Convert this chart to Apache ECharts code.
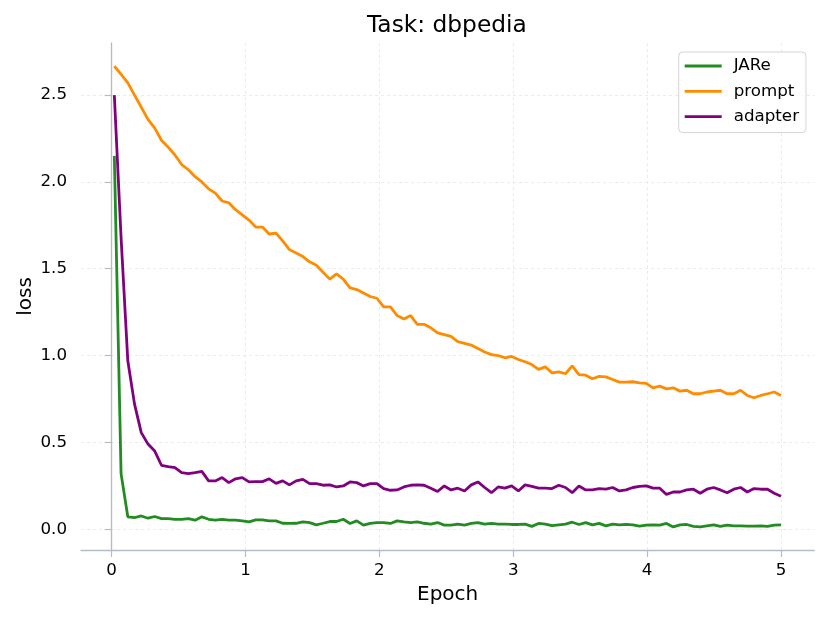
<!DOCTYPE html>
<html>
<head>
<meta charset="utf-8">
<title>Task: dbpedia</title>
<script src="https://cdn.jsdelivr.net/npm/echarts@6/dist/echarts.min.js"></script>
<style>
html,body{margin:0;padding:0;background:#fff;}
#main{width:830px;height:623px;}
</style>
</head>
<body>
<div id="main"></div>
<script>
// loss curves, 100 logged points per run between epoch 0.02 and 5.0
var seriesNames = ['JARe', 'prompt', 'adapter'];
var xTicks = [0, 1, 2, 3, 4, 5];
var yTicks = [0, 0.5, 1.0, 1.5, 2.0, 2.5];

var jare = [2.15, 0.32, 0.071, 0.067, 0.076, 0.063, 0.073, 0.061, 0.061, 0.056,
	0.056, 0.061, 0.052, 0.071, 0.057, 0.052, 0.057, 0.052, 0.052, 0.048,
	0.042, 0.053, 0.053, 0.048, 0.048, 0.034, 0.033, 0.034, 0.042, 0.038,
	0.025, 0.034, 0.044, 0.044, 0.057, 0.033, 0.048, 0.023, 0.033, 0.038,
	0.038, 0.033, 0.048, 0.042, 0.038, 0.042, 0.034, 0.029, 0.038, 0.023,
	0.023, 0.029, 0.023, 0.033, 0.038, 0.029, 0.033, 0.029, 0.029, 0.027,
	0.027, 0.029, 0.016, 0.033, 0.029, 0.021, 0.025, 0.029, 0.040, 0.027,
	0.038, 0.025, 0.033, 0.019, 0.029, 0.025, 0.027, 0.025, 0.017, 0.023,
	0.025, 0.023, 0.033, 0.013, 0.025, 0.027, 0.016, 0.013, 0.019, 0.025,
	0.016, 0.023, 0.019, 0.019, 0.017, 0.017, 0.019, 0.016, 0.023, 0.025];

var prompt = [2.667, 2.62, 2.57, 2.50, 2.43, 2.36, 2.31, 2.24, 2.20, 2.155,
	2.10, 2.07, 2.03, 2.00, 1.96, 1.935, 1.89, 1.88, 1.84, 1.81,
	1.78, 1.74, 1.74, 1.70, 1.705, 1.66, 1.61, 1.59, 1.57, 1.54,
	1.52, 1.48, 1.44, 1.47, 1.44, 1.39, 1.38, 1.36, 1.34, 1.33,
	1.28, 1.28, 1.23, 1.21, 1.23, 1.18, 1.18, 1.16, 1.13, 1.12,
	1.11, 1.08, 1.07, 1.06, 1.04, 1.02, 1.005, 1.00, 0.987, 0.995,
	0.977, 0.964, 0.948, 0.92, 0.935, 0.90, 0.906, 0.895, 0.94, 0.89,
	0.887, 0.866, 0.88, 0.877, 0.862, 0.847, 0.847, 0.849, 0.843, 0.84,
	0.814, 0.824, 0.808, 0.814, 0.795, 0.80, 0.78, 0.78, 0.79, 0.795,
	0.80, 0.78, 0.78, 0.80, 0.77, 0.757, 0.77, 0.78, 0.79, 0.77];

var adapter = [2.50, 1.68, 0.97, 0.72, 0.556, 0.49, 0.45, 0.368, 0.36, 0.355,
	0.326, 0.32, 0.326, 0.333, 0.278, 0.278, 0.297, 0.268, 0.29, 0.297,
	0.272, 0.274, 0.274, 0.29, 0.264, 0.278, 0.255, 0.278, 0.287, 0.262,
	0.262, 0.253, 0.255, 0.243, 0.249, 0.272, 0.268, 0.249, 0.262, 0.262,
	0.233, 0.224, 0.226, 0.243, 0.253, 0.255, 0.253, 0.236, 0.217, 0.249,
	0.226, 0.236, 0.22, 0.255, 0.272, 0.24, 0.21, 0.243, 0.236, 0.249,
	0.22, 0.255, 0.246, 0.236, 0.236, 0.234, 0.253, 0.24, 0.21, 0.249,
	0.226, 0.226, 0.234, 0.23, 0.24, 0.22, 0.226, 0.24, 0.246, 0.249,
	0.236, 0.236, 0.20, 0.214, 0.214, 0.226, 0.23, 0.207, 0.23, 0.24,
	0.226, 0.21, 0.23, 0.24, 0.214, 0.234, 0.23, 0.23, 0.207, 0.19];

var colors = ['#228B22', '#FF8C00', '#800080'];

// epoch of each logged point
var epochs = [];
for (var i = 0; i < jare.length; i++) {
	epochs.push(0.02 + i * (5.0 - 0.02) / (jare.length - 1));
}

function pairs(values) {
	var out = [];
	for (var i = 0; i < values.length; i++) {
		out.push([epochs[i], values[i]]);
	}
	return out;
}

var font = 'DejaVu Sans';
var spineColor = '#b4bec2';
var gridLine = {
	show: true,
	lineStyle: { color: '#e1e7e9', width: 0.8, type: [3, 3] }
};

var myChart = echarts.init(document.getElementById('main'), null, { renderer: 'canvas' });

var option = {
	backgroundColor: '#fff',
	animation: false,
	color: colors,
	textStyle: { fontFamily: font },
	title: {
		text: 'Task: dbpedia',
		left: 362,
		top: 9,
		textStyle: { fontFamily: font, fontSize: 23.3, fontWeight: 'normal', color: '#000' }
	},
	legend: {
		orient: 'vertical',
		right: 24,
		top: 52,
		padding: [4, 7, 6, 6],
		itemGap: 5.3,
		itemWidth: 37,
		itemHeight: 2.8,
		icon: 'rect',
		backgroundColor: 'rgba(255,255,255,0.8)',
		borderColor: '#d4d4d4',
		borderWidth: 1,
		borderRadius: 4,
		textStyle: { fontFamily: font, fontSize: 16.7, lineHeight: 20, color: '#000', padding: [0, 0, 0, 7] },
		data: seriesNames
	},
	grid: {
		left: 81,
		right: 15.7,
		top: 43,
		bottom: 73,
		containLabel: false
	},
	xAxis: {
		type: 'value',
		min: -0.229,
		max: 5.249,
		name: 'Epoch',
		nameLocation: 'middle',
		nameGap: 35,
		nameMoveOverlap: false,
		nameTextStyle: { fontFamily: font, fontSize: 20, color: '#000' },
		axisLine: { show: true, onZero: false, lineStyle: { color: spineColor, width: 1.4 } },
		axisTick: { show: true, length: 7, customValues: xTicks, lineStyle: { color: spineColor, width: 1.2 } },
		axisLabel: { customValues: xTicks, margin: 12, fontFamily: font, fontSize: 16.7, color: '#000' },
		splitLine: gridLine
	},
	yAxis: {
		type: 'value',
		min: -0.12,
		max: 2.80,
		name: 'loss',
		nameLocation: 'middle',
		nameGap: 45,
		nameMoveOverlap: false,
		nameRotate: 90,
		nameTextStyle: { fontFamily: font, fontSize: 20, color: '#000' },
		axisLine: { show: true, lineStyle: { color: spineColor, width: 1.4 } },
		axisTick: { show: true, length: 7, customValues: yTicks, lineStyle: { color: spineColor, width: 1.2 } },
		axisLabel: {
			customValues: yTicks, margin: 14, fontFamily: font, fontSize: 16.7, color: '#000',
			formatter: function (v) { return v.toFixed(1); }
		},
		splitLine: gridLine
	},
	series: [
		{ name: 'JARe', type: 'line', data: pairs(jare), showSymbol: false, lineStyle: { width: 2.8 } },
		{ name: 'prompt', type: 'line', data: pairs(prompt), showSymbol: false, lineStyle: { width: 2.8 } },
		{ name: 'adapter', type: 'line', data: pairs(adapter), showSymbol: false, lineStyle: { width: 2.8 } }
	]
};

myChart.setOption(option);
</script>
</body>
</html>
